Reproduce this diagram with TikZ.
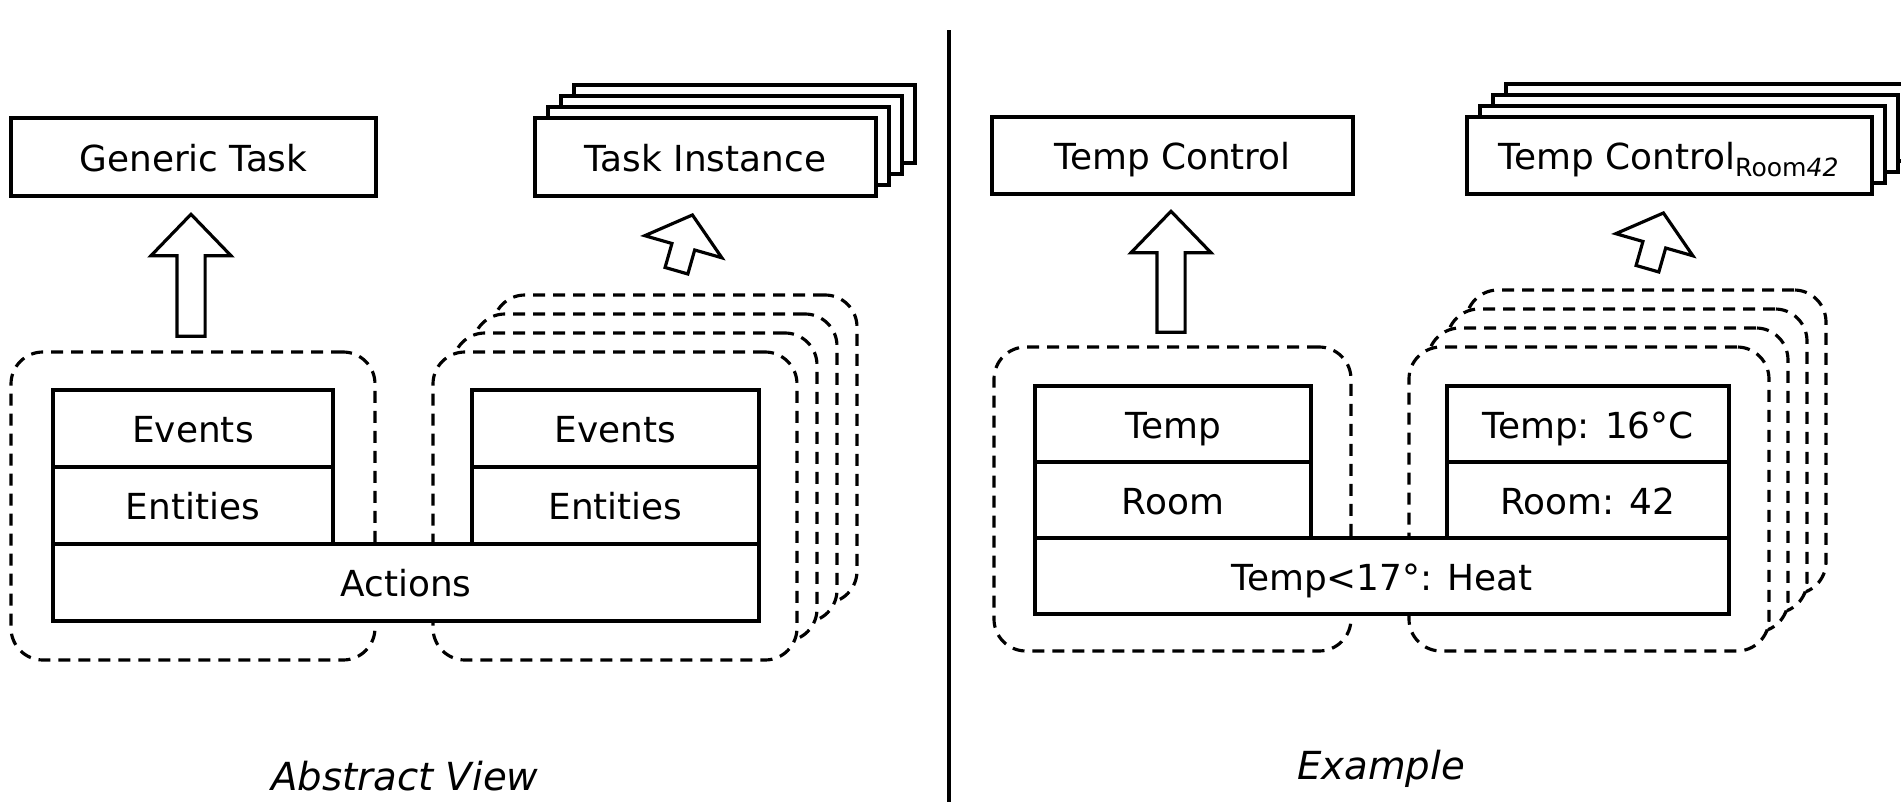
\documentclass[tikz,border=0pt]{standalone}
\usepackage{fontspec}
\setmainfont{DejaVu Sans}
\usetikzlibrary{shapes.arrows}

\begin{document}
\begin{tikzpicture}[
    taskbox/.style={draw, line width=0.9pt, fill=white, rectangle, inner sep=0pt, text height=1em, text depth=0.2em, font=\fontsize{10.2}{12}\selectfont},
    cellbox/.style={draw, line width=0.9pt, fill=white, rectangle, inner sep=0pt, text height=1em, text depth=0.2em, font=\fontsize{10.2}{12}\selectfont},
    groupbox/.style={draw, line width=0.9pt, fill=white, rectangle, rounded corners=0.32cm, dash pattern=on 0.12cm off 0.08cm},
    upblock/.style={draw, line width=0.9pt, single arrow, anchor=tip, inner xsep=0pt},
    caption/.style={anchor=base, font=\fontsize{11}{13}\selectfont\itshape}
]
            \useasboundingbox (0,0) rectangle (19.01,-8.02);
            \clip (0,0) rectangle (19.01,-8.02);

            % dividing line
            \coordinate (divtop) at (9.49,-0.30);
            \coordinate (divbot) at (9.49,-8.02);
            \draw[line width=0.9pt] (divtop) -- (divbot);

            % Abstract View: tasks
            \node[taskbox, minimum width=3.65cm, minimum height=0.78cm] (gt) at (1.935,-1.57) {Generic Task};
            \node[taskbox, minimum width=3.41cm, minimum height=0.78cm] (ti3) at (7.445,-1.24) {};
            \node[taskbox, minimum width=3.41cm, minimum height=0.78cm] (ti2) at (7.315,-1.35) {};
            \node[taskbox, minimum width=3.41cm, minimum height=0.78cm] (ti1) at (7.185,-1.46) {};
            \node[taskbox, minimum width=3.41cm, minimum height=0.78cm] (ti) at (7.055,-1.57) {Task Instance};

            % Abstract View: arrows
            \node[upblock, rotate=90, minimum height=1.22cm, inner ysep=0.125cm, single arrow head extend=0.26cm, single arrow tip angle=88] (upgt) at (1.91,-2.12) {};
            \node[upblock, rotate=74, minimum height=0.58cm, inner ysep=0.1025cm, single arrow head extend=0.2825cm, single arrow tip angle=101] (upti) at (6.93,-2.13) {};

            % Abstract View: groups
            \node[groupbox, minimum width=3.64cm, minimum height=3.08cm] (grpgt) at (1.93,-5.06) {};
            \node[groupbox, minimum width=3.64cm, minimum height=3.08cm] (grpti3) at (6.75,-4.49) {};
            \node[groupbox, minimum width=3.64cm, minimum height=3.08cm] (grpti2) at (6.55,-4.68) {};
            \node[groupbox, minimum width=3.64cm, minimum height=3.08cm] (grpti1) at (6.35,-4.87) {};
            \node[groupbox, minimum width=3.64cm, minimum height=3.08cm] (grpti) at (6.15,-5.06) {};

            % Abstract View: cells
            \node[cellbox, minimum width=2.80cm, minimum height=0.77cm] (evgt) at (1.93,-4.285) {Events};
            \node[cellbox, minimum width=2.80cm, minimum height=0.77cm] (engt) at (1.93,-5.055) {Entities};
            \node[cellbox, minimum width=2.87cm, minimum height=0.77cm] (evti) at (6.155,-4.285) {Events};
            \node[cellbox, minimum width=2.87cm, minimum height=0.77cm] (enti) at (6.155,-5.055) {Entities};
            \node[cellbox, minimum width=7.06cm, minimum height=0.77cm] (act) at (4.06,-5.825) {Actions};

            % Example: tasks
            \node[taskbox, minimum width=3.61cm, minimum height=0.77cm] (tc) at (11.725,-1.555) {Temp Control};
            \node[taskbox, minimum width=4.05cm, minimum height=0.77cm] (tcr3) at (17.085,-1.225) {};
            \node[taskbox, minimum width=4.05cm, minimum height=0.77cm] (tcr2) at (16.955,-1.335) {};
            \node[taskbox, minimum width=4.05cm, minimum height=0.77cm] (tcr1) at (16.825,-1.445) {};
            \node[taskbox, minimum width=4.05cm, minimum height=0.77cm] (tcr) at (16.695,-1.555) {Temp Control\textsubscript{Room\textit{42}}};

            % Example: arrows
            \node[upblock, rotate=90, minimum height=1.21cm, inner ysep=0.125cm, single arrow head extend=0.26cm, single arrow tip angle=88] (uptc) at (11.71,-2.09) {};
            \node[upblock, rotate=74, minimum height=0.58cm, inner ysep=0.1025cm, single arrow head extend=0.2825cm, single arrow tip angle=101] (uptcr) at (16.64,-2.11) {};

            % Example: groups
            \node[groupbox, minimum width=3.57cm, minimum height=3.04cm] (grptc) at (11.725,-4.99) {};
            \node[groupbox, minimum width=3.60cm, minimum height=3.04cm] (grptcr3) at (16.46,-4.42) {};
            \node[groupbox, minimum width=3.60cm, minimum height=3.04cm] (grptcr2) at (16.27,-4.61) {};
            \node[groupbox, minimum width=3.60cm, minimum height=3.04cm] (grptcr1) at (16.08,-4.80) {};
            \node[groupbox, minimum width=3.60cm, minimum height=3.04cm] (grptcr) at (15.89,-4.99) {};

            % Example: cells
            \node[cellbox, minimum width=2.76cm, minimum height=0.76cm] (temptc) at (11.73,-4.24) {Temp};
            \node[cellbox, minimum width=2.76cm, minimum height=0.76cm] (roomtc) at (11.73,-5.00) {Room};
            \node[cellbox, minimum width=2.82cm, minimum height=0.76cm] (temptcr) at (15.88,-4.24) {Temp: 16°C};
            \node[cellbox, minimum width=2.82cm, minimum height=0.76cm] (roomtcr) at (15.88,-5.00) {Room: 42};
            \node[cellbox, minimum width=6.94cm, minimum height=0.76cm] (heat) at (13.82,-5.76) {Temp<17°: Heat};

            % captions
            \node[caption] (capabs) at (4.05,-7.90) {Abstract View};
            \node[caption] (capex) at (13.81,-7.79) {Example};

\end{tikzpicture}
\end{document}
